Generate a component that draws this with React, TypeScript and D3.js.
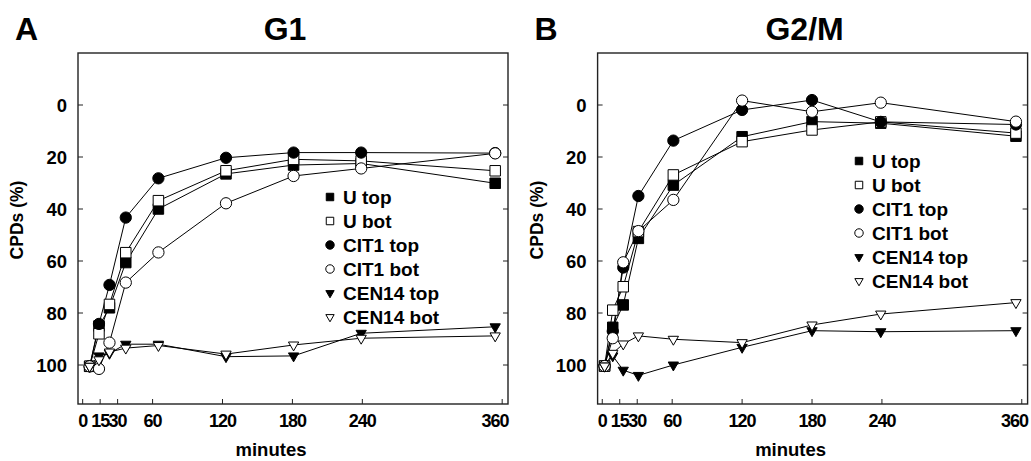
import React from "react";
import * as d3 from "d3";

const tickMinutes = [0, 15, 30, 60, 120, 180, 240, 360];
const tickCpds = [0, 20, 40, 60, 80, 100];
const seriesNames = ["U top", "U bot", "CIT1 top", "CIT1 bot", "CEN14 top", "CEN14 bot"];

// G1 panel
const g1Minutes = [6, 14, 23, 37, 65, 123, 181, 239, 354];
const g1UTop = [100.5, 85, 78, 60.6, 40, 26.5, 23.1, 22.5, 30.1];
const g1UBot = [100.5, 88, 76.7, 56.8, 36.8, 25.3, 20.9, 21.5, 25.3];
const g1CitTop = [100.5, 84.2, 69.2, 43.3, 28.2, 20.3, 18.3, 18.3, 18.5];
const g1CitBot = [100.5, 101.5, 91.4, 68.3, 56.7, 37.8, 27.3, 24.4, 18.6];
const g1CenTop = [100.5, 96.5, 95.5, 92, 92, 96.8, 96.5, 87.8, 85.3];
const g1CenBot = [100.5, 98, 95, 93.5, 92.5, 95.8, 92.3, 89.7, 88.8];

// G2/M panel
const g2Minutes = [2, 9, 18, 31, 61, 120, 180, 239, 355];
const g2UTop = [100.4, 85.5, 76.9, 51.3, 30.8, 12.2, 6.4, 7, 12];
const g2UBot = [100.4, 78.9, 69.9, 48.7, 26.9, 14.1, 9.6, 6.5, 10.8];
const g2CitTop = [100.4, 87, 62.5, 35, 13.7, 1.9, -1.9, 6.5, 7.5];
const g2CitBot = [100.4, 89.7, 60.5, 48.5, 36.5, -1.7, 2.6, -0.9, 6.4];
const g2CenTop = [100.4, 96.5, 102, 104, 100, 93.2, 86.8, 87.2, 86.8];
const g2CenBot = [100.4, 95.5, 91.9, 88.8, 90.1, 91.4, 84.6, 80.4, 76];

const markerStyles = [
  { shape: "square", fill: "#000" },
  { shape: "square", fill: "#fff" },
  { shape: "circle", fill: "#000" },
  { shape: "circle", fill: "#fff" },
  { shape: "triangle", fill: "#000" },
  { shape: "triangle", fill: "#fff" },
];

const FONT = "'Liberation Sans', Arial, Helvetica, sans-serif";

function markerPath(shape: string, big: boolean) {
  if (shape === "square") return d3.symbol(d3.symbolSquare, big ? 110 : 56)();
  if (shape === "circle") return d3.symbol(d3.symbolCircle, big ? 100 : 56)();
  return d3.symbol(d3.symbolTriangle, big ? 46 : 30)();
}

function Marker({ shape, fill, x, y, big = true }: any) {
  const rot = shape === "triangle" ? " rotate(180)" : "";
  return (
    <path
      d={markerPath(shape, big) || ""}
      transform={`translate(${x},${y})${rot}`}
      fill={fill}
      stroke="#000"
      strokeWidth={1}
    />
  );
}

function Panel({ left, letter, title, minutes, series, legendX, legendY }: any) {
  const top = 53;
  const bottom = 404;
  const right = left + 430;
  const x = d3.scaleLinear().domain([-4, 365]).range([left, right]);
  const y = d3.scaleLinear().domain([-20, 115]).range([top, bottom]);
  const line = d3
    .line<[number, number]>()
    .x(d => x(d[0]))
    .y(d => y(d[1]));

  return (
    <g>
      <text x={left - 63} y={40} fontSize={32} fontWeight="bold" fontFamily={FONT}>
        {letter}
      </text>
      <text x={left + 207} y={40} fontSize={32} fontWeight="bold" fontFamily={FONT} textAnchor="middle">
        {title}
      </text>
      <rect x={left} y={top} width={430} height={bottom - top} fill="none" stroke="#222" strokeWidth={1.4} />
      {tickCpds.map(v => (
        <g key={"y" + v}>
          <line x1={left} x2={left + 5} y1={y(v)} y2={y(v)} stroke="#222" strokeWidth={1} />
          <line x1={right} x2={right - 5} y1={y(v)} y2={y(v)} stroke="#222" strokeWidth={1} />
          <text x={left - 11} y={y(v) + 6.5} fontSize={18.5} fontWeight="bold" fontFamily={FONT} textAnchor="end">
            {v}
          </text>
        </g>
      ))}
      {tickMinutes.map(t => (
        <g key={"x" + t}>
          <line x1={x(t)} x2={x(t)} y1={bottom} y2={bottom - 5} stroke="#222" strokeWidth={1} />
          <text
            x={Math.min(x(t), right - 13)}
            y={427}
            fontSize={18}
            fontWeight="bold"
            fontFamily={FONT}
            letterSpacing={-1}
            textAnchor="middle"
          >
            {t}
          </text>
        </g>
      ))}
      <text x={left + 193} y={456} fontSize={18.5} fontWeight="bold" fontFamily={FONT} textAnchor="middle">
        minutes
      </text>
      <text
        transform={`translate(${left - 55},${220}) rotate(-90)`}
        fontSize={17.5}
        fontWeight="bold"
        fontFamily={FONT}
        textAnchor="middle"
      >
        CPDs (%)
      </text>
      {series.map((s: number[], i: number) => (
        <path
          key={"l" + i}
          d={line(minutes.map((t: number, j: number) => [t, s[j]])) || ""}
          fill="none"
          stroke="#000"
          strokeWidth={1}
        />
      ))}
      {series.map((s: number[], i: number) =>
        s.map((v, j) => (
          <Marker key={"m" + i + "-" + j} {...markerStyles[i]} x={x(minutes[j])} y={y(v)} />
        ))
      )}
      {seriesNames.map((name, i) => (
        <g key={"lg" + i}>
          <Marker {...markerStyles[i]} x={legendX} y={legendY + i * 24} big={false} />
          <text
            x={legendX + 13}
            y={legendY + i * 24 + 7}
            fontSize={19}
            fontWeight="bold"
            fontFamily={FONT}
          >
            {name}
          </text>
        </g>
      ))}
    </g>
  );
}

export default function App() {
  return (
    <svg
      width={1031}
      height={461}
      style={{ position: "absolute", left: 0, top: 0, background: "#fff" }}
    >
      <Panel
        left={78}
        letter="A"
        title="G1"
        minutes={g1Minutes}
        series={[g1UTop, g1UBot, g1CitTop, g1CitBot, g1CenTop, g1CenBot]}
        legendX={330}
        legendY={197}
      />
      <Panel
        left={597.6}
        letter="B"
        title="G2/M"
        minutes={g2Minutes}
        series={[g2UTop, g2UBot, g2CitTop, g2CitBot, g2CenTop, g2CenBot]}
        legendX={859}
        legendY={161}
      />
    </svg>
  );
}
